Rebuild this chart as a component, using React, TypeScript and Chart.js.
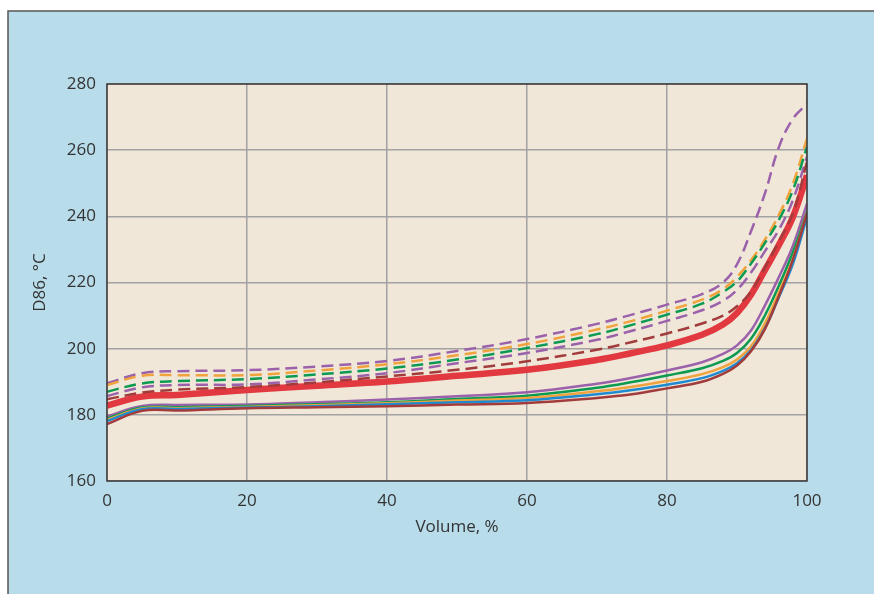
import React, { useEffect, useRef } from "react";
import { Chart, registerables } from "chart.js";

Chart.register(...registerables);

// Volume, % (x positions where values were read)
const volume = [0, 5, 10, 20, 30, 40, 50, 60, 70, 75, 80, 85, 88, 90, 92, 94, 96, 98, 100];

// Dashed series
const dashPurpleTop = [189.5, 192.6, 193.2, 193.5, 194.6, 196.3, 199.3, 202.9, 207.5, 210.3, 213.3, 216.5, 220.0, 225.5, 235.5, 247.0, 261.0, 269.5, 274.0];
const dashOrange = [189.0, 191.8, 192.0, 192.0, 193.4, 195.3, 198.0, 201.4, 205.8, 208.4, 211.5, 214.8, 218.0, 221.7, 226.7, 233.0, 240.5, 250.0, 263.5];
const dashGreen = [187.0, 189.5, 190.2, 190.8, 192.2, 194.0, 196.7, 200.2, 204.4, 207.2, 210.3, 213.6, 217.1, 220.3, 225.7, 232.0, 239.0, 248.0, 261.0];
const dashPurple = [185.7, 188.3, 189.0, 189.2, 190.7, 192.6, 195.6, 198.7, 202.7, 205.4, 208.4, 211.6, 214.5, 217.8, 223.0, 229.5, 236.0, 245.0, 258.0];
const dashBrown = [184.7, 186.7, 187.6, 188.4, 189.8, 191.6, 193.6, 196.2, 199.7, 202.0, 204.6, 207.6, 210.0, 212.8, 217.3, 224.5, 232.5, 241.0, 256.5];

// Thick red series
const thickRed = [182.8, 185.5, 186.0, 187.5, 188.8, 190.1, 191.8, 193.6, 196.6, 198.7, 201.0, 204.2, 207.3, 210.8, 216.3, 223.8, 231.4, 239.9, 252.4];

// Solid series
const solidPurple = [179.5, 182.7, 183.0, 183.1, 183.8, 184.6, 185.6, 186.8, 189.4, 191.2, 193.4, 195.9, 198.4, 201.0, 205.5, 213.1, 221.7, 231.2, 243.8];
const solidGreen = [178.9, 182.2, 182.3, 182.7, 183.2, 183.8, 184.8, 185.8, 188.2, 189.9, 191.9, 194.1, 196.3, 198.7, 203.0, 210.1, 219.1, 229.2, 241.3];
const solidOrange = [178.5, 181.9, 182.0, 182.4, 182.9, 183.5, 184.3, 185.1, 187.1, 188.5, 190.2, 192.3, 194.4, 196.7, 200.7, 207.7, 217.1, 227.2, 241.0];
const solidBlue = [178.1, 181.7, 181.8, 182.2, 182.6, 183.2, 183.8, 184.4, 186.2, 187.5, 189.1, 191.1, 193.3, 195.6, 199.6, 206.2, 215.6, 225.7, 239.8];
const solidBrown = [177.2, 181.2, 181.3, 182.0, 182.3, 182.6, 183.1, 183.6, 185.1, 186.2, 188.0, 190.0, 192.4, 194.9, 199.2, 206.0, 216.0, 227.0, 241.0];

const xTicks = [0, 20, 40, 60, 80, 100];
const yTicks = [160, 180, 200, 220, 240, 260, 280];

const PURPLE = "#9b62ab";
const ORANGE = "#f0a33c";
const GREEN = "#0c9a52";
const BLUE = "#1f8ad0";
const BROWN = "#a23b3b";
const RED = "#e2383f";

const W = 874;
const H = 594;

const toPts = (arr: number[]) => arr.map((y, i) => ({ x: volume[i], y }));

const bgPlugin = {
  id: "bgPlugin",
  beforeDraw(chart: any) {
    const { ctx, chartArea } = chart;
    ctx.save();
    ctx.fillStyle = "#ffffff";
    ctx.fillRect(0, 0, W, H);
    ctx.fillStyle = "#b8dcea";
    ctx.fillRect(8, 11, W - 8, H - 11);
    ctx.strokeStyle = "#555555";
    ctx.lineWidth = 1.5;
    ctx.beginPath();
    ctx.moveTo(8, H + 2);
    ctx.lineTo(8, 11);
    ctx.lineTo(W + 2, 11);
    ctx.stroke();
    ctx.fillStyle = "#f0e7d8";
    ctx.fillRect(chartArea.left, chartArea.top, chartArea.right - chartArea.left, chartArea.bottom - chartArea.top);
    ctx.restore();
  },
  afterDraw(chart: any) {
    const { ctx, chartArea } = chart;
    ctx.save();
    ctx.strokeStyle = "#3a3a3a";
    ctx.lineWidth = 1.5;
    ctx.strokeRect(chartArea.left, chartArea.top, chartArea.right - chartArea.left, chartArea.bottom - chartArea.top);
    ctx.restore();
  },
};

export default function App() {
  const ref = useRef<HTMLCanvasElement | null>(null);

  useEffect(() => {
    if (!ref.current) return;
    const dashed = (label: string, data: number[], color: string) => ({
      label,
      data: toPts(data),
      borderColor: color,
      borderWidth: 2.5,
      borderDash: [12, 6],
      pointRadius: 0,
      fill: false,
      tension: 0.4,
    });
    const solid = (label: string, data: number[], color: string, width = 2.5) => ({
      label,
      data: toPts(data),
      borderColor: color,
      borderWidth: width,
      pointRadius: 0,
      fill: false,
      tension: 0.4,
    });

    const chart = new Chart(ref.current, {
      type: "line",
      data: {
        datasets: [
          solid("Solid brown", solidBrown, BROWN),
          solid("Solid blue", solidBlue, BLUE),
          solid("Solid orange", solidOrange, ORANGE),
          solid("Solid green", solidGreen, GREEN),
          solid("Solid purple", solidPurple, PURPLE),
          dashed("Dashed brown", dashBrown, BROWN),
          dashed("Dashed purple", dashPurple, PURPLE),
          dashed("Dashed green", dashGreen, GREEN),
          dashed("Dashed orange", dashOrange, ORANGE),
          dashed("Dashed purple top", dashPurpleTop, PURPLE),
          solid("Thick red", thickRed, RED, 6.5),
        ],
      },
      options: {
        animation: false,
        responsive: false,
        maintainAspectRatio: false,
        layout: { padding: { left: 0, top: 84, right: W - 807, bottom: 0 } },
        plugins: { legend: { display: false }, tooltip: { enabled: false } },
        scales: {
          x: {
            type: "linear",
            min: 0,
            max: 100,
            afterFit: (s: any) => {
              s.height = H - 481;
            },
            afterBuildTicks: (s: any) => {
              s.ticks = xTicks.map((v) => ({ value: v }));
            },
            grid: { color: "#a2a2a2", lineWidth: 1.5, drawTicks: false },
            border: { display: false },
            ticks: {
              color: "#333333",
              padding: 10,
              font: { family: "'Open Sans'", size: 17 },
            },
            title: {
              display: true,
              text: "Volume, %",
              color: "#333333",
              font: { family: "'Open Sans'", size: 17 },
              padding: { top: 0, bottom: 57 },
            },
          },
          y: {
            type: "linear",
            min: 160,
            max: 280,
            afterFit: (s: any) => {
              s.width = 107;
            },
            afterBuildTicks: (s: any) => {
              s.ticks = yTicks.map((v) => ({ value: v }));
            },
            grid: { color: "#a2a2a2", lineWidth: 1.5, drawTicks: false },
            border: { display: false },
            ticks: {
              color: "#333333",
              padding: 11,
              font: { family: "'Open Sans'", size: 17 },
            },
            title: {
              display: true,
              text: "D86, °C",
              color: "#333333",
              font: { family: "'Open Sans'", size: 17 },
              padding: { top: 30, bottom: 0 },
            },
          },
        },
      },
      plugins: [bgPlugin],
    });
    return () => chart.destroy();
  }, []);

  return (
    <div style={{ position: "absolute", left: 0, top: 0, width: W, height: H }}>
      <canvas ref={ref} width={W} height={H} style={{ width: W, height: H, display: "block" }} />
    </div>
  );
}
